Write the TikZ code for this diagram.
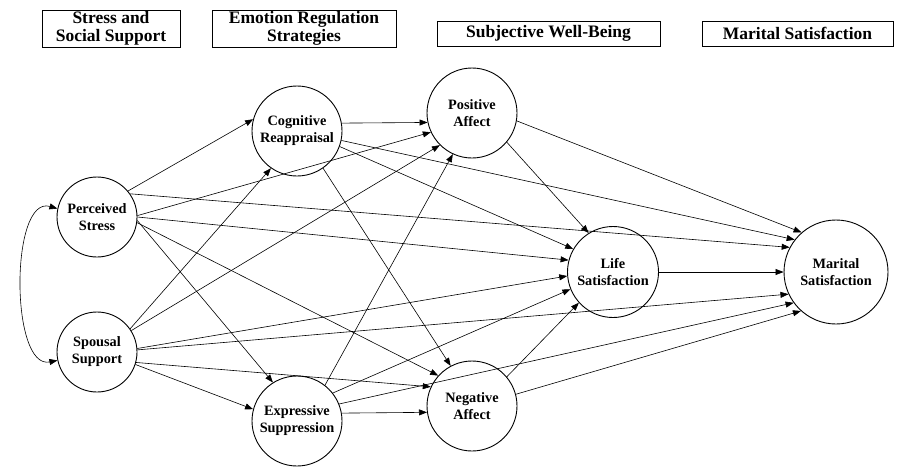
\documentclass[tikz,border=0pt]{standalone}
\usepackage{fontspec}
\setmainfont{Liberation Serif}
\usetikzlibrary{arrows.meta}
\begin{document}
\begin{tikzpicture}[x=1pt,y=-1pt,
  hdr/.style={draw, line width=0.9pt, inner sep=0pt, align=center,
    font=\bfseries\fontsize{17.5}{17.5}\selectfont},
  var/.style={circle, draw, line width=0.9pt, inner sep=0pt, align=center,
    font=\bfseries\fontsize{14.3}{17}\selectfont},
  link/.style={line width=0.6pt, -{Triangle[length=8pt,width=6pt]}},
]
\useasboundingbox (0,0) rectangle (901,471);

% column headings
\node[hdr, minimum width=138pt, minimum height=37pt] (h1) at (111,28.5) {Stress and\\Social Support};
\node[hdr, minimum width=184pt, minimum height=37pt] (h2) at (304,28.5) {Emotion Regulation\\Strategies};
\node[hdr, minimum width=223pt, minimum height=25pt] (h3) at (548.5,33.5) {Subjective Well-Being};
\node[hdr, minimum width=191pt, minimum height=25pt] (h4) at (797.5,33.5) {Marital Satisfaction};

% latent variables
\node[var, minimum size=80pt]  (PS) at (97,217)  {Perceived\\Stress};
\node[var, minimum size=80pt]  (SS) at (97,352)  {Spousal\\Support};
\node[var, minimum size=90pt]  (CR) at (297,131) {Cognitive\\Reappraisal};
\node[var, minimum size=90pt]  (ES) at (297,421) {Expressive\\Suppression};
\node[var, minimum size=90pt]  (PA) at (472,113) {Positive\\Affect};
\node[var, minimum size=90pt]  (NA) at (472,406) {Negative\\Affect};
\node[var, minimum size=91pt]  (LS) at (613,272) {Life\\Satisfaction};
\node[var, minimum size=104pt] (MS) at (836,272) {Marital\\Satisfaction};

% covariance between the two exogenous variables
\draw[line width=0.6pt, {Triangle[length=8pt,width=6pt]}-{Triangle[length=8pt,width=6pt]}]
  (PS.168) .. controls (10,195) and (10,370) .. (SS.192);

% paths from perceived stress
\draw[link] (PS.40) -- (CR.165);
\draw[link] (PS.35) -- (MS.152);
\draw[link] (PS.2)  -- (PA.205);
\draw[link] (PS.0)  -- (LS.165);
\draw[link] (PS.-5) -- (ES.122);
\draw[link] (PS.-8) -- (NA.138);

% paths from spousal support
\draw[link] (SS.35)  -- (CR.235);
\draw[link] (SS.32)  -- (PA.225);
\draw[link] (SS.5)   -- (LS.185);
\draw[link] (SS.3)   -- (MS.205);
\draw[link] (SS.-15) -- (NA.155);
\draw[link] (SS.-18) -- (ES.165);

% paths from cognitive reappraisal
\draw[link] (CR.10)  -- (PA.192);
\draw[link] (CR.-20) -- (LS.150);
\draw[link] (CR.-12) -- (MS.142);
\draw[link] (CR.-55) -- (NA.118);

% paths from expressive suppression
\draw[link] (ES.10) -- (NA.188);
\draw[link] (ES.52) -- (PA.245);
\draw[link] (ES.38) -- (LS.202);
\draw[link] (ES.22) -- (MS.216);

% paths from affect
\draw[link] (PA.-40) -- (LS.122);
\draw[link] (PA.-10) -- (MS.131);
\draw[link] (NA.40)  -- (LS.222);
\draw[link] (NA.15)  -- (MS.228);

% life satisfaction to marital satisfaction
\draw[link] (LS.0) -- (MS.180);
\end{tikzpicture}
\end{document}
